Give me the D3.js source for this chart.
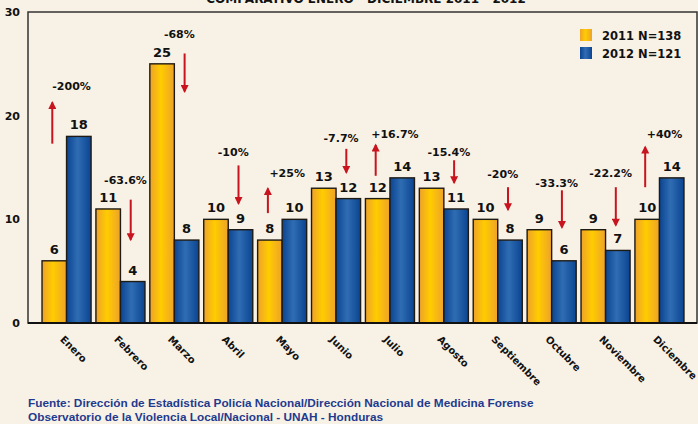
<!DOCTYPE html>
<html>
<head>
<meta charset="utf-8">
<script src="https://cdn.jsdelivr.net/npm/d3@7"></script>
<style>
  html, body { margin: 0; padding: 0; background: #f8f2e6; }
  svg { display: block; }
  text { font-family: "DejaVu Sans", Verdana, sans-serif; font-weight: bold; }
</style>
</head>
<body>
<svg id="chart" width="698" height="424"></svg>
<script>
"use strict";

// Months and yearly counts
var months = ["Enero", "Febrero", "Marzo", "Abril", "Mayo", "Junio", "Julio",
    "Agosto", "Septiembre", "Octubre", "Noviembre", "Diciembre"];
var values2011 = [6, 11, 25, 10, 8, 13, 12, 13, 10, 9, 9, 10];
var values2012 = [18, 4, 8, 9, 10, 12, 14, 11, 8, 6, 7, 14];
var seriesNames = ["2011 N=138", "2012 N=121"];

// Change labels, their level and the extent of each arrow, in value units
var changeLabels = ["-200%", "-63.6%", "-68%", "-10%", "+25%", "-7.7%",
    "+16.7%", "-15.4%", "-20%", "-33.3%", "-22.2%", "+40%"];
var labelLevel = [22.5, 13.4, 27.5, 16.1, 14.1, 17.5, 17.8, 16.1, 14.0, 13.1, 14.1, 17.8];
var arrowTop = [21.5, 11.9, 26.0, 15.2, 13.2, 16.8, 17.4, 15.7, 13.1, 12.8, 13.1, 17.2];
var arrowBottom = [17.3, 7.8, 22.1, 11.3, 10.6, 14.3, 14.2, 13.3, 10.7, 9.0, 9.2, 13.1];

var yTicks = [0, 10, 20, 30];

var title = "COMPARATIVO ENERO - DICIEMBRE 2011 - 2012";
var footer = [
    "Fuente: Dirección de Estadística Policía Nacional/Dirección Nacional de Medicina Forense",
    "Observatorio de la Violencia Local/Nacional - UNAH - Honduras"
];

var svg = d3.select("#chart");

// Plot frame
var frame = { left: 28, right: 697, top: 12, bottom: 323 };

var x = d3.scaleBand().domain(months)
    .range([39.6, 686.4]).paddingInner(0.09).paddingOuter(0.045);
var xs = d3.scaleBand().domain([0, 1]).range([0, x.bandwidth()]);
var y = d3.scaleLinear().domain([0, 30]).range([frame.bottom, frame.top]);

// Gradients for the bars
var defs = svg.append("defs");
function gradient(id, edge, mid) {
    var g = defs.append("linearGradient").attr("id", id)
        .attr("x1", "0%").attr("x2", "100%").attr("y1", "0%").attr("y2", "0%");
    g.append("stop").attr("offset", "0%").attr("stop-color", edge);
    g.append("stop").attr("offset", "45%").attr("stop-color", mid);
    g.append("stop").attr("offset", "100%").attr("stop-color", edge);
}
gradient("g2011", "#eea22a", "#ffcc00");
gradient("g2012", "#0b4491", "#2f6db3");
var fills = ["url(#g2011)", "url(#g2012)"];

// Arrow head, tip 2.4px past the end of the line
defs.append("marker").attr("id", "head")
    .attr("viewBox", "0 0 10 10").attr("refX", 8).attr("refY", 5)
    .attr("markerWidth", 12).attr("markerHeight", 8)
    .attr("markerUnits", "userSpaceOnUse")
    .attr("orient", "auto")
    .append("path").attr("d", "M0,0 L10,5 L0,10 Z").attr("fill", "#c8141e");

// Title, partly off the top of the picture
svg.append("text").attr("x", 366).attr("y", 3)
    .attr("text-anchor", "middle").style("font-size", "12px").attr("fill", "#111")
    .text(title);

// Frame
svg.append("rect")
    .attr("x", frame.left).attr("y", frame.top)
    .attr("width", frame.right - frame.left).attr("height", frame.bottom - frame.top)
    .attr("fill", "none").attr("stroke", "#333").attr("stroke-width", 1.5);

// Y axis labels
svg.append("g").selectAll("text").data(yTicks).join("text")
    .attr("x", 20).attr("y", function(d) { return y(d); })
    .attr("dy", "0.35em").attr("text-anchor", "end")
    .style("font-size", "11px").attr("fill", "#111")
    .text(function(d) { return d; });

// Bars
var rows = months.map(function(m, i) {
    return { month: m, i: i, vals: [values2011[i], values2012[i]] };
});

var groups = svg.append("g").selectAll("g").data(rows).join("g")
    .attr("transform", function(d) { return "translate(" + x(d.month) + ",0)"; });

groups.selectAll("rect").data(function(d) { return d.vals; }).join("rect")
    .attr("x", function(d, k) { return xs(k); })
    .attr("y", function(d) { return y(d); })
    .attr("width", xs.bandwidth())
    .attr("height", function(d) { return y(0) - y(d); })
    .attr("fill", function(d, k) { return fills[k]; })
    .attr("stroke", "#1e1a14").attr("stroke-width", 1.4);

groups.selectAll("text.val").data(function(d) { return d.vals; }).join("text")
    .attr("class", "val")
    .attr("x", function(d, k) { return xs(k) + xs.bandwidth() / 2; })
    .attr("y", function(d) { return y(d) - 7; })
    .attr("text-anchor", "middle").style("font-size", "13px").attr("fill", "#111")
    .text(function(d) { return d; });

// Baseline
svg.append("line")
    .attr("x1", frame.left).attr("x2", frame.right)
    .attr("y1", y(0)).attr("y2", y(0))
    .attr("stroke", "#111").attr("stroke-width", 2.2);

// Change arrows: placed over the lower bar of each month
groups.each(function(d) {
    var g = d3.select(this);
    var up = d.vals[1] > d.vals[0];
    var k = up ? 0 : 1;
    var ax = xs(k) + xs.bandwidth() / 2 - 2;
    var y1 = up ? y(arrowBottom[d.i]) : y(arrowTop[d.i]);
    var y2 = up ? y(arrowTop[d.i]) + 2.4 : y(arrowBottom[d.i]) - 2.4;
    g.append("line")
        .attr("x1", ax).attr("x2", ax).attr("y1", y1).attr("y2", y2)
        .attr("stroke", "#c8141e").attr("stroke-width", 2)
        .attr("marker-end", "url(#head)");
    g.append("text")
        .attr("x", x.bandwidth() / 2 + 5)
        .attr("y", y(labelLevel[d.i]))
        .attr("text-anchor", "middle").style("font-size", "11px").attr("fill", "#111")
        .text(changeLabels[d.i]);
});

// Month labels
svg.append("g").selectAll("text").data(months).join("text")
    .attr("transform", function(d) {
        return "translate(" + (x(d) + x.bandwidth() / 2 - 7) + "," + (y(0) + 17) + ") rotate(45)";
    })
    .style("font-size", "10px").attr("fill", "#111")
    .text(function(d) { return d; });

// Legend
var legend = svg.append("g").attr("transform", "translate(580,29)");
var items = legend.selectAll("g").data(seriesNames).join("g")
    .attr("transform", function(d, i) { return "translate(0," + (i * 18) + ")"; });
items.append("rect").attr("width", 12).attr("height", 12)
    .attr("fill", function(d, i) { return fills[i]; });
items.append("text").attr("x", 22).attr("y", 11)
    .style("font-size", "11.5px").attr("fill", "#111")
    .text(function(d) { return d; });

// Source notes
svg.append("g").selectAll("text").data(footer).join("text")
    .attr("x", 28).attr("y", function(d, i) { return 407 + i * 14; })
    .style("font-family", "'Liberation Sans', Arial, sans-serif")
    .style("font-size", "11.8px").attr("fill", "#1f3a8f")
    .text(function(d) { return d; });
</script>
</body>
</html>
